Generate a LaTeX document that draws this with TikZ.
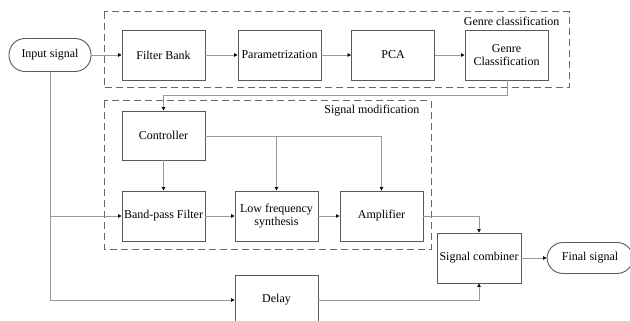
\documentclass[tikz,border=0pt]{standalone}
\usepackage{fontspec}
\setmainfont{Liberation Serif}
\usetikzlibrary{arrows.meta}
\begin{document}
\begin{tikzpicture}[x=1pt,y=-1pt,
  box/.style={draw=black!65,line width=0.9pt,fill=white,minimum width=83pt,minimum height=50pt,inner sep=1pt,font=\fontsize{12}{13}\selectfont,align=center},
  term/.style={draw=black!65,line width=0.9pt,fill=white,rounded corners=16pt,minimum height=33pt,inner sep=1pt,font=\fontsize{12}{13}\selectfont},
  conn/.style={draw=black!40,line width=0.8pt,-{Triangle[length=3.5pt,width=3.5pt,color=black]}},
  line/.style={draw=black!40,line width=0.8pt},
  group/.style={draw=black!60,line width=1pt,dash pattern=on 7pt off 4pt},
  glabel/.style={font=\fontsize{12}{13}\selectfont,anchor=east}]
\useasboundingbox (0,0) rectangle (630,321);
\clip (0,0) rectangle (630,321);
\fill[white] (0,0) rectangle (630,321);
% group boxes
\draw[group] (104,12) rectangle (569,88);
\draw[group] (104,101) rectangle (431,249);
\node[glabel] (lgc) at (563,21) {Genre classification};
\node[glabel] (lsm) at (423,111) {Signal modification};
% nodes
\node[term,minimum width=82pt] (in) at (50,55) {Input signal};
\node[box] (fb) at (163.5,55) {Filter Bank};
\node[box] (par) at (279.5,55) {Parametrization};
\node[box] (pca) at (393,55) {PCA};
\node[box] (gc) at (506.5,55) {Genre\\Classification};
\node[box,minimum height=49pt] (ctrl) at (163.5,135.5) {Controller};
\node[box] (bp) at (163.5,216) {Band-pass Filter};
\node[box] (lf) at (276.5,216) {Low frequency\\synthesis};
\node[box] (amp) at (381.5,216) {Amplifier};
\node[box,minimum width=84pt] (sc) at (479,258) {Signal combiner};
\node[term,minimum width=86pt,minimum height=31pt] (fin) at (590,258) {Final signal};
\node[box] (dl) at (276.5,300) {Delay};
% coordinates
\coordinate (g1) at (507,95);
\coordinate (g2) at (163.5,95);
\coordinate (c1) at (276.5,136);
\coordinate (c2) at (381.5,136);
\coordinate (i1) at (50,216);
\coordinate (i2) at (50,300);
\coordinate (a1) at (479,216);
\coordinate (d1) at (479,300);
% connectors
\draw[conn] (in.east) -- (fb.west);
\draw[conn] (fb.east) -- (par.west);
\draw[conn] (par.east) -- (pca.west);
\draw[conn] (pca.east) -- (gc.west);
\draw[conn] (gc.south -| g1) -- (g1) -- (g2) -- (ctrl.north);
\draw[conn] (ctrl.south) -- (bp.north);
\draw[conn] (ctrl.east |- c2) -- (c2) -- (amp.north);
\draw[conn] (c1) -- (lf.north);
\draw[conn] (in.south) -- (i2) -- (dl.west);
\draw[conn] (i1) -- (bp.west);
\draw[conn] (bp.east) -- (lf.west);
\draw[conn] (lf.east) -- (amp.west);
\draw[conn] (amp.east) -- (a1) -- (sc.north);
\draw[conn] (dl.east) -- (d1) -- (sc.south);
\draw[conn] (sc.east) -- (fin.west);
\end{tikzpicture}
\end{document}
